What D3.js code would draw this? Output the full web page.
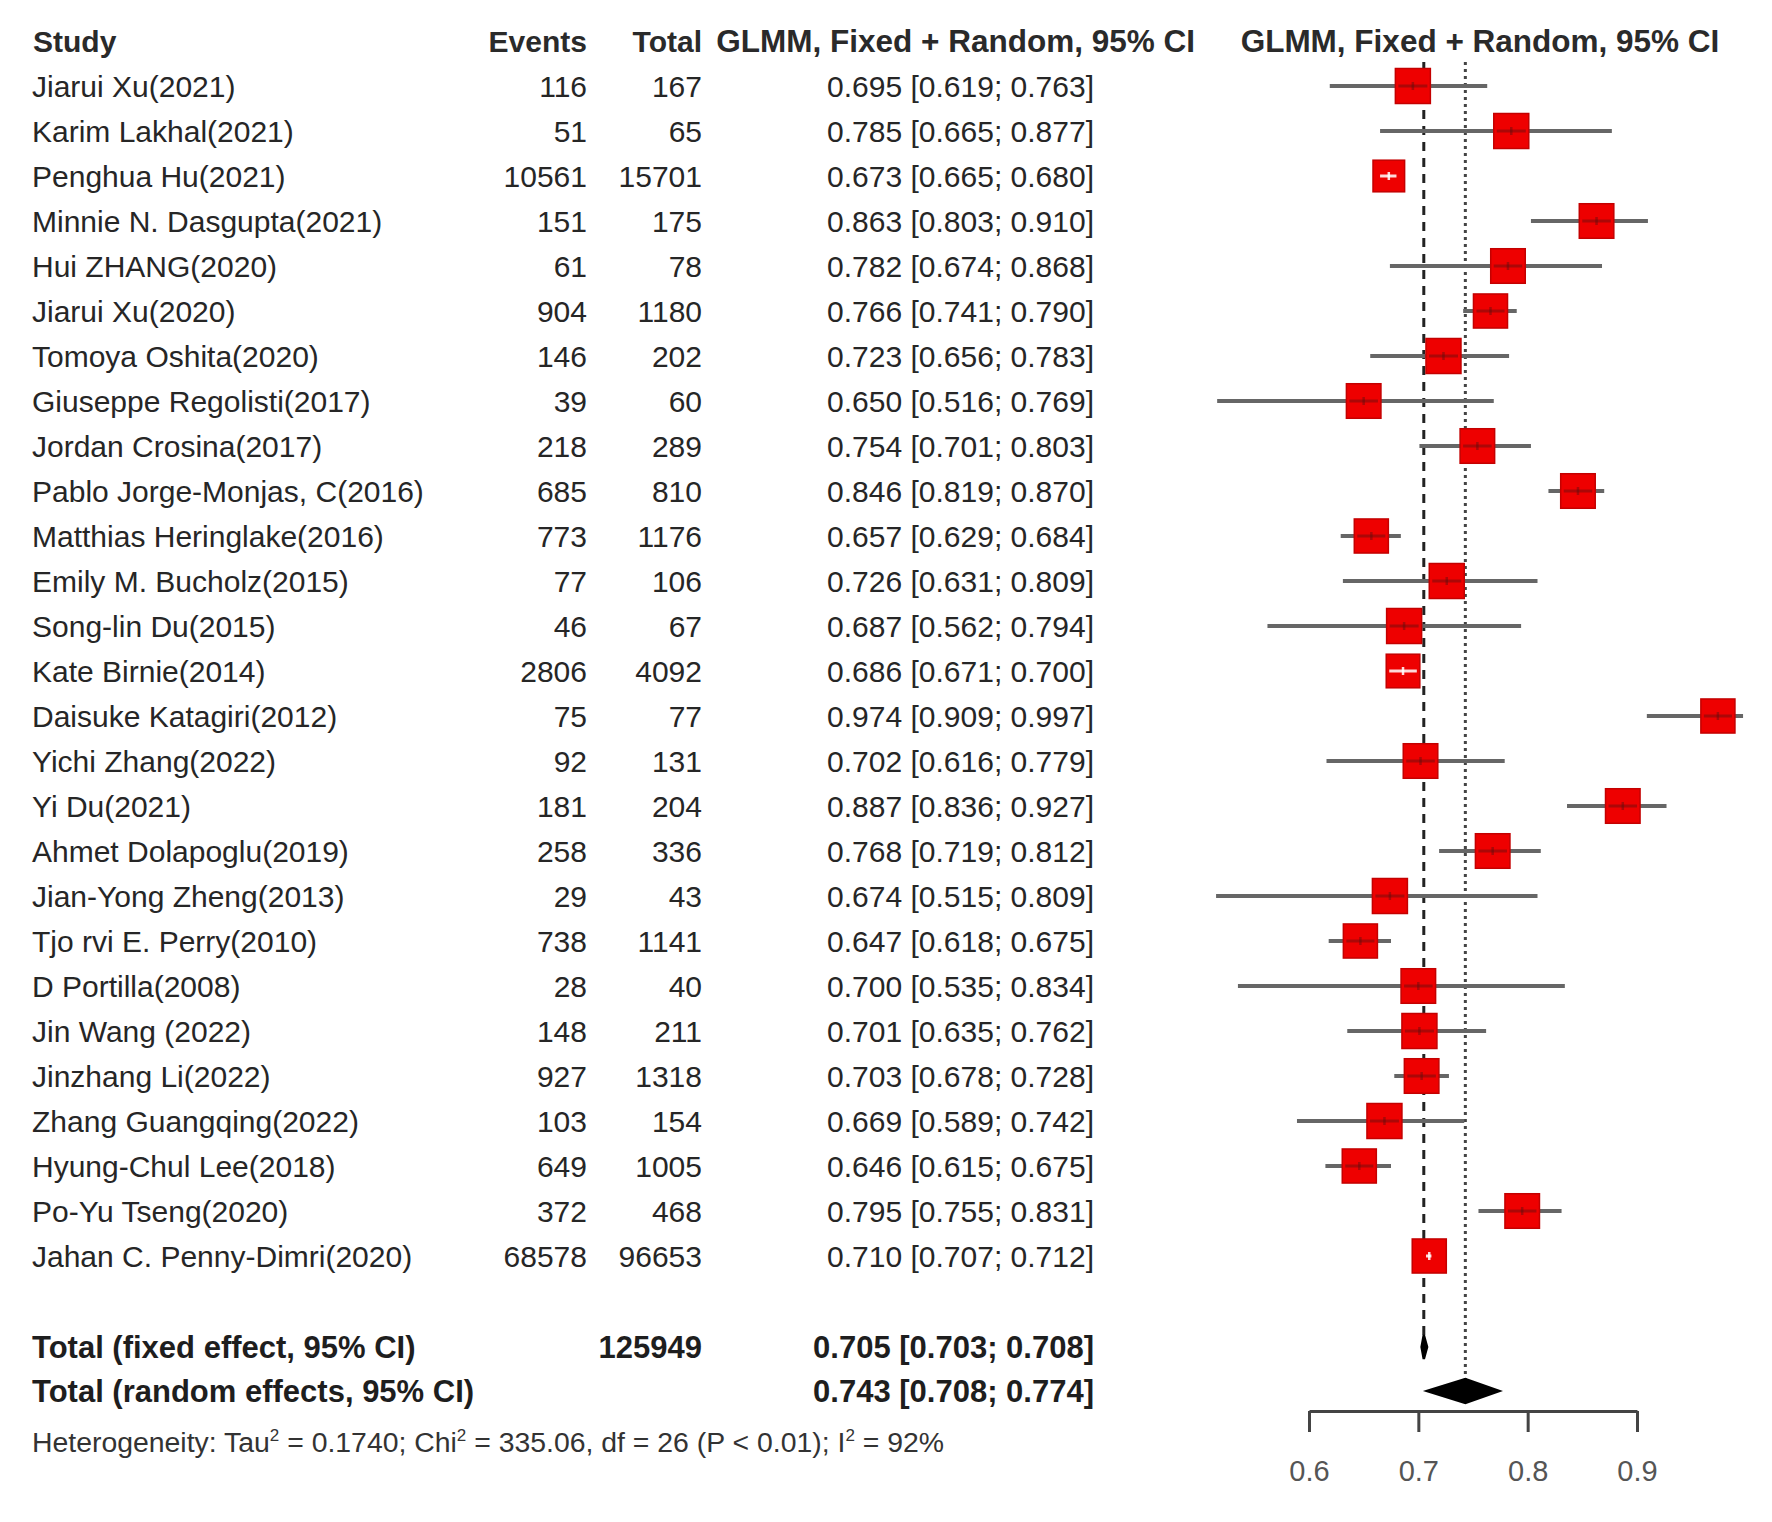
<!DOCTYPE html>
<html>
<head>
<meta charset="utf-8">
<script src="https://cdn.jsdelivr.net/npm/d3@7"></script>
<style>
body { margin:0; background:#fff; }
text { font-family:"Liberation Sans", Arial, sans-serif; }
</style>
</head>
<body>
<div id="viz"></div>
<script>
var width = 1772;
var height = 1522;

var studies = ["Jiarui Xu(2021)","Karim Lakhal(2021)","Penghua Hu(2021)","Minnie N. Dasgupta(2021)","Hui ZHANG(2020)",
	"Jiarui Xu(2020)","Tomoya Oshita(2020)","Giuseppe Regolisti(2017)","Jordan Crosina(2017)","Pablo Jorge-Monjas, C(2016)",
	"Matthias Heringlake(2016)","Emily M. Bucholz(2015)","Song-lin Du(2015)","Kate Birnie(2014)","Daisuke Katagiri(2012)",
	"Yichi Zhang(2022)","Yi Du(2021)","Ahmet Dolapoglu(2019)","Jian-Yong Zheng(2013)","Tjo rvi E. Perry(2010)",
	"D Portilla(2008)","Jin Wang (2022)","Jinzhang Li(2022)","Zhang Guangqing(2022)","Hyung-Chul Lee(2018)",
	"Po-Yu Tseng(2020)","Jahan C. Penny-Dimri(2020)"];
var events = [116,51,10561,151,61,904,146,39,218,685,773,77,46,2806,75,92,181,258,29,738,28,148,927,103,649,372,68578];
var totals = [167,65,15701,175,78,1180,202,60,289,810,1176,106,67,4092,77,131,204,336,43,1141,40,211,1318,154,1005,468,96653];
var est = [0.695,0.785,0.673,0.863,0.782,0.766,0.723,0.650,0.754,0.846,0.657,0.726,0.687,0.686,0.974,
	0.702,0.887,0.768,0.674,0.647,0.700,0.701,0.703,0.669,0.646,0.795,0.710];
var lower = [0.619,0.665,0.665,0.803,0.674,0.741,0.656,0.516,0.701,0.819,0.629,0.631,0.562,0.671,0.909,
	0.616,0.836,0.719,0.515,0.618,0.535,0.635,0.678,0.589,0.615,0.755,0.707];
var upper = [0.763,0.877,0.680,0.910,0.868,0.790,0.783,0.769,0.803,0.870,0.684,0.809,0.794,0.700,0.997,
	0.779,0.927,0.812,0.809,0.675,0.834,0.762,0.728,0.742,0.675,0.831,0.712];
// approximate random-effects weights (%)
var weights = [3.8,3.8,3.1,3.7,3.7,3.6,3.8,3.7,3.7,3.7,3.6,3.8,3.8,3.5,3.6,3.7,3.7,3.7,3.8,3.6,3.7,3.8,3.7,3.8,3.6,3.7,3.6];

var pooledLabels = ["Total (fixed effect, 95% CI)","Total (random effects, 95% CI)"];
var pooledEst = [0.705,0.743];
var pooledLower = [0.703,0.708];
var pooledUpper = [0.708,0.774];
var pooledTotal = ["125949",""];
var xTicks = [0.6,0.7,0.8,0.9];

var f3 = d3.format(".3f");

var canvas = d3.select('#viz')
	.append('svg')
	.attr("width",width)
	.attr("height",height);

var xScale = d3.scaleLinear()
	.domain([0.6,0.9])
	.range([1309,1637]);

var rowScale = d3.scaleLinear()
	.domain([0,26])
	.range([86,1256]);

var boxScale = d3.scaleSqrt()
	.domain([0,d3.max(weights)])
	.range([0,35]);

var pooledY = [1347,1391];

// header
var header = canvas.append("g")
	.attr("font-weight","bold")
	.attr("font-size",30)
	.attr("fill","#2a2a2a");
header.append("text").attr("x",33).attr("y",52).text("Study");
header.append("text").attr("x",587).attr("y",52).attr("text-anchor","end").text("Events");
header.append("text").attr("x",702).attr("y",52).attr("text-anchor","end").text("Total");
header.append("text").attr("x",1195).attr("y",52).attr("text-anchor","end").attr("font-size",31.5)
	.text("GLMM, Fixed + Random, 95% CI");
header.append("text").attr("x",1480).attr("y",52).attr("text-anchor","middle").attr("font-size",31.5)
	.text("GLMM, Fixed + Random, 95% CI");

// study rows
var rows = canvas.append("g")
	.attr("font-size",30)
	.attr("fill","#262626")
	.selectAll("g")
	.data(studies)
	.enter()
		.append("g")
		.attr("transform",function(d,i){return "translate(0,"+(rowScale(i)+11)+")"});

rows.append("text").attr("x",32).text(function(d){return d});
rows.append("text").attr("x",587).attr("text-anchor","end").text(function(d,i){return events[i]});
rows.append("text").attr("x",702).attr("text-anchor","end").text(function(d,i){return totals[i]});
rows.append("text").attr("x",1094).attr("text-anchor","end")
	.text(function(d,i){return f3(est[i])+" ["+f3(lower[i])+"; "+f3(upper[i])+"]"});

// pooled rows
var pooled = canvas.append("g")
	.attr("font-size",31)
	.attr("font-weight","bold")
	.attr("fill","#1e1e1e")
	.selectAll("g")
	.data(pooledLabels)
	.enter()
		.append("g")
		.attr("transform",function(d,i){return "translate(0,"+(pooledY[i]+11)+")"});

pooled.append("text").attr("x",32).text(function(d){return d});
pooled.append("text").attr("x",702).attr("text-anchor","end").text(function(d,i){return pooledTotal[i]});
pooled.append("text").attr("x",1094).attr("text-anchor","end")
	.text(function(d,i){return f3(pooledEst[i])+" ["+f3(pooledLower[i])+"; "+f3(pooledUpper[i])+"]"});

// heterogeneity line
var het = canvas.append("text")
	.attr("x",32)
	.attr("y",1452)
	.attr("font-size",28.4)
	.attr("fill","#333");
het.append("tspan").text("Heterogeneity: Tau");
het.append("tspan").attr("dy",-11).attr("font-size",17).text("2");
het.append("tspan").attr("dy",11).text(" = 0.1740; Chi");
het.append("tspan").attr("dy",-11).attr("font-size",17).text("2");
het.append("tspan").attr("dy",11).text(" = 335.06, df = 26 (P < 0.01); I");
het.append("tspan").attr("dy",-11).attr("font-size",17).text("2");
het.append("tspan").attr("dy",11).text(" = 92%");

// reference lines for fixed and random estimates
canvas.append("line")
	.attr("x1",xScale(pooledEst[0])).attr("x2",xScale(pooledEst[0]))
	.attr("y1",62).attr("y2",pooledY[0]-8)
	.attr("stroke","#222")
	.attr("stroke-width",3)
	.attr("stroke-dasharray","9,7");

canvas.append("line")
	.attr("x1",xScale(pooledEst[1])).attr("x2",xScale(pooledEst[1]))
	.attr("y1",62).attr("y2",pooledY[1]-10)
	.attr("stroke","#444")
	.attr("stroke-width",3)
	.attr("stroke-dasharray","3,4");

// confidence intervals
var marks = canvas.append("g")
	.selectAll("g")
	.data(studies)
	.enter()
		.append("g");

marks.append("line")
	.attr("x1",function(d,i){return xScale(lower[i])})
	.attr("x2",function(d,i){return xScale(upper[i])})
	.attr("y1",function(d,i){return rowScale(i)})
	.attr("y2",function(d,i){return rowScale(i)})
	.attr("stroke","#666")
	.attr("stroke-width",4);

marks.append("rect")
	.attr("x",function(d,i){return xScale(est[i])-boxScale(weights[i])/2})
	.attr("y",function(d,i){return rowScale(i)-boxScale(weights[i])/2})
	.attr("width",function(d,i){return boxScale(weights[i])})
	.attr("height",function(d,i){return boxScale(weights[i])})
	.attr("fill","#ee0000")
	.attr("stroke","#c40000")
	.attr("stroke-width",1.5);

// line drawn inside the box: white when the CI fits inside it
function inside(i){
	return xScale(upper[i])-xScale(lower[i]) < boxScale(weights[i]);
}
marks.append("line")
	.attr("x1",function(d,i){
		var b = boxScale(weights[i])/2;
		return Math.max(xScale(lower[i]),xScale(est[i])-b+3)})
	.attr("x2",function(d,i){
		var b = boxScale(weights[i])/2;
		return Math.min(xScale(upper[i]),xScale(est[i])+b-3)})
	.attr("y1",function(d,i){return rowScale(i)})
	.attr("y2",function(d,i){return rowScale(i)})
	.attr("stroke",function(d,i){return inside(i) ? "#fff" : "#5a1010"})
	.attr("stroke-opacity",function(d,i){return inside(i) ? 0.85 : 0.45})
	.attr("stroke-width",3);

// small tick at the estimate
marks.append("line")
	.attr("x1",function(d,i){return xScale(est[i])})
	.attr("x2",function(d,i){return xScale(est[i])})
	.attr("y1",function(d,i){return rowScale(i)-4})
	.attr("y2",function(d,i){return rowScale(i)+4})
	.attr("stroke",function(d,i){return inside(i) ? "#fff" : "#5a1010"})
	.attr("stroke-opacity",function(d,i){return inside(i) ? 0.85 : 0.45})
	.attr("stroke-width",2.5);

// pooled diamonds
canvas.append("g")
	.selectAll("path")
	.data(pooledEst)
	.enter()
		.append("path")
		.attr("d",function(d,i){
			var y = pooledY[i], h = 12;
			return "M"+xScale(pooledLower[i])+","+y+
				"L"+xScale(d)+","+(y-h)+
				"L"+xScale(pooledUpper[i])+","+y+
				"L"+xScale(d)+","+(y+h)+"Z"})
		.attr("fill","#000")
		.attr("stroke","#000")
		.attr("stroke-width",2.5);

// x axis
var xAxis = d3.axisBottom()
	.scale(xScale)
	.tickValues(xTicks)
	.tickSize(21)
	.tickPadding(28)
	.tickSizeOuter(0)
	.tickFormat(d3.format(".1f"));

var axisG = canvas.append("g")
	.attr("transform","translate(0,1411)")
	.call(xAxis);

axisG.select(".domain").attr("stroke","#444").attr("stroke-width",3);
axisG.selectAll(".tick line").attr("stroke","#444").attr("stroke-width",3);
axisG.selectAll(".tick text")
	.attr("font-family","Liberation Sans, Arial, sans-serif")
	.attr("font-size",29)
	.attr("fill","#555");
</script>
</body>
</html>
